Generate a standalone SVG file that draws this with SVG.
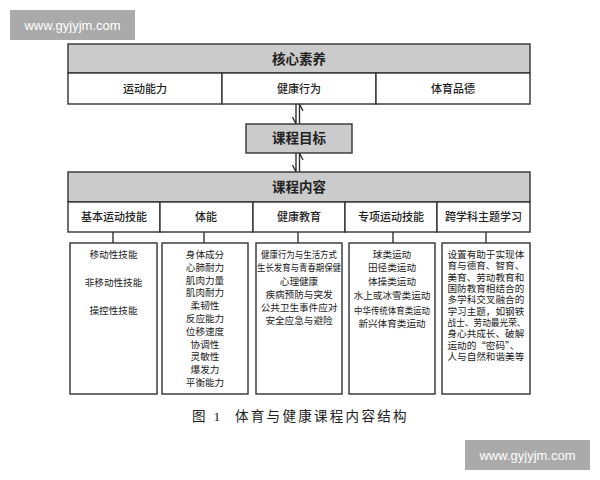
<svg xmlns="http://www.w3.org/2000/svg" width="600" height="480" viewBox="0 0 600 480">
<style>
.box{fill:#fff;stroke:#333;stroke-width:1.4}
.hdr{fill:#cbcbcb;stroke:#333;stroke-width:1.4}
.ln{stroke:#333;stroke-width:1.4;fill:none}
.t{font-family:"Liberation Sans","Noto Sans CJK SC",sans-serif;fill:#222;text-anchor:middle;dominant-baseline:central}
.h1{font-size:13.5px;font-weight:bold}
.h2{font-size:11px;font-weight:500}
.s{font-size:9.6px}
.wm{font-family:"Liberation Sans","DejaVu Sans",sans-serif;font-size:13px;fill:#fff;text-anchor:middle;dominant-baseline:central}
.cap{font-family:"Liberation Serif","Noto Sans CJK SC",serif;font-size:13.5px;fill:#222;dominant-baseline:central;letter-spacing:2.3px}
</style>
<rect width="600" height="480" fill="#fff"/>
<g id="watermark-top">
<rect x="10" y="10" width="125" height="30" fill="#aaaaaa"/>
<text class="wm" x="72.5" y="25">www.gyjyjm.com</text>
</g>
<g id="core">
<rect class="hdr" x="68" y="44" width="462" height="29"/>
<rect class="box" x="68" y="73" width="154" height="31"/>
<rect class="box" x="222" y="73" width="154" height="31"/>
<rect class="box" x="376" y="73" width="154" height="31"/>
<text class="t h1" x="299" y="59">核心素养</text>
<text class="t h2" x="145" y="89">运动能力</text>
<text class="t h2" x="299" y="89">健康行为</text>
<text class="t h2" x="453" y="89">体育品德</text>
</g>
<g id="goal">
<rect class="hdr" x="246" y="124" width="106" height="29"/>
<text class="t h1" x="299" y="138.5">课程目标</text>
</g>
<g id="content">
<rect class="hdr" x="68" y="172" width="462" height="30"/>
<rect class="box" x="68" y="202" width="92" height="30"/>
<rect class="box" x="160" y="202" width="93" height="30"/>
<rect class="box" x="253" y="202" width="92" height="30"/>
<rect class="box" x="345" y="202" width="92" height="30"/>
<rect class="box" x="437" y="202" width="93" height="30"/>
<text class="t h1" x="299" y="187">课程内容</text>
<text class="t h2" x="114" y="217">基本运动技能</text>
<text class="t h2" x="206" y="217">体能</text>
<text class="t h2" x="299" y="217">健康教育</text>
<text class="t h2" x="391" y="217">专项运动技能</text>
<text class="t h2" x="483.5" y="217">跨学科主题学习</text>
</g>
<g id="basic">
<rect class="box" x="70" y="243" width="87" height="151"/>
<text class="t s" x="113.5" y="254.5">移动性技能</text>
<text class="t s" x="113.5" y="282.5">非移动性技能</text>
<text class="t s" x="113.5" y="310">操控性技能</text>
</g>
<g id="fitness">
<rect class="box" x="162" y="243" width="86" height="151"/>
<text class="t s" x="205" y="254.5">身体成分</text>
<text class="t s" x="205" y="267.3">心肺耐力</text>
<text class="t s" x="205" y="280.1">肌肉力量</text>
<text class="t s" x="205" y="292.9">肌肉耐力</text>
<text class="t s" x="205" y="305.7">柔韧性</text>
<text class="t s" x="205" y="318.5">反应能力</text>
<text class="t s" x="205" y="331.3">位移速度</text>
<text class="t s" x="205" y="344.1">协调性</text>
<text class="t s" x="205" y="356.9">灵敏性</text>
<text class="t s" x="205" y="369.7">爆发力</text>
<text class="t s" x="205" y="382.5">平衡能力</text>
</g>
<g id="health">
<rect class="box" x="256" y="243" width="86" height="151"/>
<text class="t s" x="299" y="254.5" textLength="76" lengthAdjust="spacingAndGlyphs">健康行为与生活方式</text>
<text class="t s" x="299" y="267.5" textLength="84" lengthAdjust="spacingAndGlyphs">生长发育与青春期保健</text>
<text class="t s" x="299" y="281.5">心理健康</text>
<text class="t s" x="299" y="294.5">疾病预防与突发</text>
<text class="t s" x="299" y="307">公共卫生事件应对</text>
<text class="t s" x="299" y="320.5">安全应急与避险</text>
</g>
<g id="sports">
<rect class="box" x="349" y="243" width="86" height="151"/>
<text class="t s" x="392" y="254.5">球类运动</text>
<text class="t s" x="392" y="267.5">田径类运动</text>
<text class="t s" x="392" y="281.5">体操类运动</text>
<text class="t s" x="392" y="295">水上或冰雪类运动</text>
<text class="t s" x="392" y="310" textLength="76" lengthAdjust="spacingAndGlyphs">中华传统体育类运动</text>
<text class="t s" x="392" y="323.5">新兴体育类运动</text>
</g>
<g id="cross">
<rect class="box" x="442" y="243" width="88" height="151"/>
<g class="t s" style="text-anchor:start">
<text x="447.5" y="254.5">设置有助于实现体</text>
<text x="447.5" y="265.8">育与德育、智育、</text>
<text x="447.5" y="277.1">美育、劳动教育和</text>
<text x="447.5" y="288.4">国防教育相结合的</text>
<text x="447.5" y="299.7">多学科交叉融合的</text>
<text x="447.5" y="311">学习主题，如钢铁</text>
<text x="447.5" y="322.3" textLength="78" lengthAdjust="spacingAndGlyphs">战士、劳动最光荣、</text>
<text x="447.5" y="333.6">身心共成长、破解</text>
<text x="447.5" y="344.9" style="font-family:'Noto Sans CJK SC',sans-serif">运动的“密码”、</text>
<text x="447.5" y="356.2">人与自然和谐美等</text>
</g>
</g>
<g id="connectors">
<path class="ln" d="M296 104V124M296 124L292.5 117M299.5 124V104M299.5 104L303 111"/>
<path class="ln" d="M296 153V172M296 172L292.5 165M299.5 172V153M299.5 153L303 160"/>
<path class="ln" d="M113 232V243M204 232V243M298 232V243M393 232V243M486 232V243"/>
</g>
<g id="caption">
<text class="cap" x="192" y="416">图 1</text>
<text class="cap" x="235" y="416">体育与健康课程内容结构</text>
</g>
<g id="watermark-bottom">
<rect x="465" y="440" width="125" height="30" fill="#aaaaaa"/>
<text class="wm" x="527.5" y="455">www.gyjyjm.com</text>
</g>
</svg>
